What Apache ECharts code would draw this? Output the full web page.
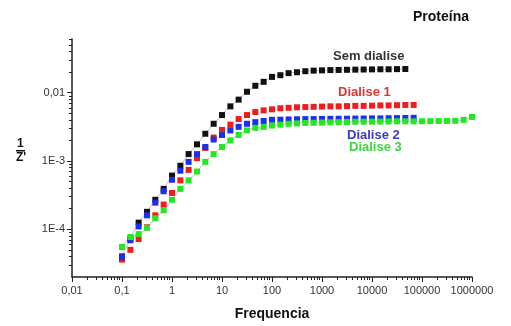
<!DOCTYPE html>
<html>
<head>
<meta charset="utf-8">
<script src="https://cdn.jsdelivr.net/npm/echarts@6/dist/echarts.min.js"></script>
<style>
  html, body { margin: 0; padding: 0; background: #fff; }
  #chart { width: 511px; height: 326px; }
</style>
</head>
<body>
<div id="chart"></div>
<script>
// frequency sweep (Hz), 6 points per decade
var freq = [0.1, 0.147, 0.215, 0.316, 0.464, 0.681, 1, 1.47, 2.15, 3.16, 4.64, 6.81,
    10, 14.7, 21.5, 31.6, 46.4, 68.1, 100, 147, 215, 316, 464, 681,
    1000, 1470, 2150, 3160, 4640, 6810, 10000, 14700, 21500, 31600, 46400, 68100,
    100000, 147000, 215000, 316000, 464000, 681000, 1000000];

var semDialise = [4.0e-5, 7.2e-5, 1.25e-4, 1.8e-4, 2.7e-4, 3.9e-4, 6.1e-4,
    8.5e-4, 1.26e-3, 1.75e-3, 2.5e-3, 3.5e-3, 4.7e-3, 6.3e-3, 7.9e-3, 0.0103, 0.0126,
    0.0144, 0.0170, 0.0180, 0.0193, 0.0199, 0.0206, 0.0210,
    0.0212, 0.0214, 0.0215, 0.0216, 0.0217, 0.0218, 0.0219, 0.0220, 0.0220, 0.0221, 0.0222];

var dialise1 = [3.6e-5, 5.0e-5, 7.2e-5, 1.07e-4, 1.6e-4, 2.3e-4, 3.4e-4, 5.2e-4, 7.4e-4,
    1.1e-3, 1.55e-3, 2.2e-3, 2.85e-3, 3.4e-3, 4.1e-3, 4.7e-3, 5.2e-3, 5.5e-3, 5.7e-3, 5.9e-3, 6.0e-3,
    6.1e-3, 6.15e-3, 6.2e-3, 6.25e-3, 6.3e-3, 6.3e-3, 6.35e-3, 6.4e-3, 6.4e-3, 6.45e-3,
    6.5e-3, 6.5e-3, 6.55e-3, 6.6e-3, 6.6e-3];

var dialise2 = [3.9e-5, 6.9e-5, 1.1e-4, 1.6e-4, 2.45e-4, 3.6e-4, 5.3e-4, 7.2e-4, 9.7e-4,
    1.26e-3, 1.6e-3, 2.06e-3, 2.4e-3, 2.8e-3, 3.16e-3, 3.5e-3, 3.7e-3, 3.85e-3, 4.0e-3,
    4.02e-3, 4.05e-3, 4.08e-3, 4.1e-3, 4.1e-3, 4.12e-3, 4.14e-3, 4.15e-3, 4.16e-3, 4.17e-3,
    4.18e-3, 4.2e-3, 4.2e-3, 4.22e-3, 4.24e-3, 4.25e-3, 4.28e-3];

var dialise3 = [5.5e-5, 7.7e-5, 8.5e-5, 1.05e-4, 1.45e-4, 1.9e-4, 2.7e-4, 3.9e-4, 5.2e-4,
    7.0e-4, 9.7e-4, 1.26e-3, 1.6e-3, 2.0e-3, 2.4e-3, 2.8e-3, 3.05e-3, 3.15e-3, 3.3e-3, 3.4e-3, 3.5e-3,
    3.55e-3, 3.6e-3, 3.62e-3, 3.65e-3, 3.68e-3, 3.7e-3, 3.72e-3, 3.74e-3, 3.75e-3, 3.76e-3,
    3.77e-3, 3.78e-3, 3.8e-3, 3.8e-3, 3.8e-3, 3.82e-3, 3.83e-3, 3.84e-3, 3.85e-3, 3.87e-3,
    4.0e-3, 4.4e-3];

var seriesNames = ['Sem dialise', 'Dialise 1', 'Dialise 2', 'Dialise 3'];
var seriesColors = ['#111111', '#f01c1c', '#1c2ff0', '#22e822'];

// decade ticks and their labels
var xTicks = [0.01, 0.1, 1, 10, 100, 1000, 10000, 100000, 1000000];
var xTickLabels = ['0,01', '0,1', '1', '10', '100', '1000', '10000', '100000', '1000000'];
var yTicks = [1e-4, 1e-3, 0.01];
var yTickLabels = ['1E-4', '1E-3', '0,01'];

var xMin = 0.01, xMax = 1000000, yMin = 2e-5, yMax = 0.061;

function pairs(ys) {
    var out = [];
    for (var i = 0; i < ys.length; i++) out.push([freq[i], ys[i]]);
    return out;
}

function exps(vals) {
    return vals.map(function (v) { return Math.log10(v); });
}

// 2..9 x 10^d minor ticks inside [lo, hi]
function minorTicks(lo, hi) {
    var out = [];
    for (var d = Math.floor(Math.log10(lo)); d <= Math.ceil(Math.log10(hi)); d++) {
        for (var m = 2; m <= 9; m++) {
            var v = m * Math.pow(10, d);
            if (v > lo && v < hi) out.push(v);
        }
    }
    return out;
}

function labelFor(ticks, labels) {
    return function (v) {
        for (var i = 0; i < ticks.length; i++) {
            if (Math.abs(Math.log10(v) - Math.log10(ticks[i])) < 1e-6) return labels[i];
        }
        return '';
    };
}

// helper axis in exponent space, only draws ticks
function tickAxis(pos, lo, hi, values, len) {
    return {
        type: 'value',
        position: pos,
        min: Math.log10(lo),
        max: Math.log10(hi),
        axisLine: {show: false, onZero: false},
        axisTick: {show: true, length: len, customValues: exps(values), lineStyle: {color: '#222', width: 1}},
        axisLabel: {show: false},
        splitLine: {show: false}
    };
}

var chart = echarts.init(document.getElementById('chart'));
var font = 'Liberation Sans, Arial, sans-serif';

var allData = [semDialise, dialise1, dialise2, dialise3];
var series = [];
for (var s = 0; s < allData.length; s++) {
    series.push({
        name: seriesNames[s],
        type: 'line',
        xAxisIndex: 0,
        yAxisIndex: 0,
        data: pairs(allData[s]),
        symbol: 'rect',
        symbolSize: 6,
        showSymbol: true,
        smooth: true,
        itemStyle: {color: seriesColors[s]},
        lineStyle: {
            width: (s === 0 || s === 3) ? 1 : 0,
            color: '#d2b0c8'
        },
        animation: false
    });
}

chart.setOption({
    backgroundColor: '#fff',
    grid: {left: 72, right: 39, top: 39, bottom: 43},
    xAxis: [{
        type: 'log',
        min: xMin,
        max: xMax,
        name: 'Frequencia',
        nameLocation: 'middle',
        nameGap: 30,
        nameTextStyle: {fontFamily: font, fontWeight: 'bold', fontSize: 14, color: '#111'},
        axisLine: {onZero: false, lineStyle: {color: '#222', width: 1.5}},
        axisTick: {show: false},
        axisLabel: {formatter: labelFor(xTicks, xTickLabels),
            fontFamily: font, fontSize: 11, color: '#333', margin: 8},
        splitLine: {show: false}
    },
        tickAxis('bottom', xMin, xMax, xTicks, 5),
        tickAxis('bottom', xMin, xMax, minorTicks(xMin, xMax), 3)
    ],
    yAxis: [{
        type: 'log',
        min: yMin,
        max: yMax,
        axisLine: {show: true, onZero: false, lineStyle: {color: '#222', width: 1.5}},
        axisTick: {show: false},
        axisLabel: {formatter: labelFor(yTicks, yTickLabels),
            fontFamily: font, fontSize: 11, color: '#333', margin: 7},
        splitLine: {show: false}
    },
        tickAxis('left', yMin, yMax, yTicks, 5),
        tickAxis('left', yMin, yMax, minorTicks(yMin, yMax), 3)
    ],
    series: series,
    graphic: [
        {type: 'text', left: 413, top: 10,
            style: {text: 'Proteína', font: 'bold 14px ' + font, fill: '#111'}},
        {type: 'text', left: 333, top: 50,
            style: {text: 'Sem dialise', font: 'bold 13px ' + font, fill: '#333'}},
        {type: 'text', left: 338, top: 86,
            style: {text: 'Dialise 1', font: 'bold 13px ' + font, fill: '#e03434'}},
        {type: 'text', left: 347, top: 129,
            style: {text: 'Dialise 2', font: 'bold 13px ' + font, fill: '#3a3ac8'}},
        {type: 'text', left: 349, top: 141,
            style: {text: 'Dialise 3', font: 'bold 13px ' + font, fill: '#3ad83a'}},
        {type: 'text', left: 17, top: 138,
            style: {text: '1', font: 'bold 12px ' + font, fill: '#111'}},
        {type: 'rect', left: 16, top: 150, shape: {width: 9, height: 1.5},
            style: {fill: '#111'}},
        {type: 'text', left: 16, top: 152,
            style: {text: "Z'", font: 'bold 12px ' + font, fill: '#111'}}
    ]
});
</script>
</body>
</html>
